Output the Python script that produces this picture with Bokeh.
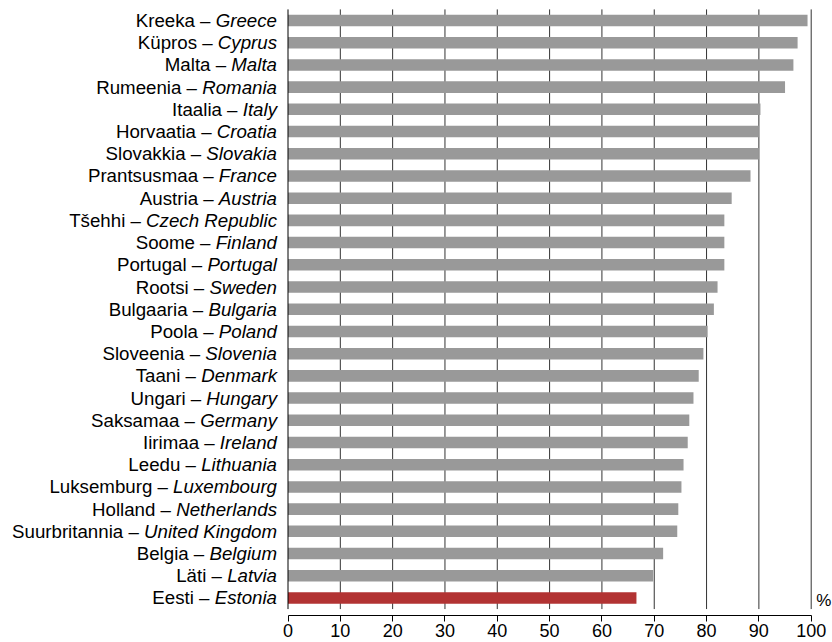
from bokeh.plotting import figure
from bokeh.models import ColumnDataSource, Range1d, FixedTicker
from bokeh.core.properties import value
from bokeh.embed import file_html
from bokeh.resources import INLINE

# ---- data ----
countries_et = ["Kreeka", "Küpros", "Malta", "Rumeenia", "Itaalia", "Horvaatia", "Slovakkia",
                "Prantsusmaa", "Austria", "Tšehhi", "Soome", "Portugal", "Rootsi", "Bulgaaria",
                "Poola", "Sloveenia", "Taani", "Ungari", "Saksamaa", "Iirimaa", "Leedu",
                "Luksemburg", "Holland", "Suurbritannia", "Belgia", "Läti", "Eesti"]
countries_en = ["Greece", "Cyprus", "Malta", "Romania", "Italy", "Croatia", "Slovakia",
                "France", "Austria", "Czech Republic", "Finland", "Portugal", "Sweden", "Bulgaria",
                "Poland", "Slovenia", "Denmark", "Hungary", "Germany", "Ireland", "Lithuania",
                "Luxembourg", "Netherlands", "United Kingdom", "Belgium", "Latvia", "Estonia"]
values = [99.3, 97.4, 96.6, 95.0, 90.3, 90.0, 90.0, 88.4, 84.8, 83.4, 83.4, 83.4, 82.1, 81.4,
          80.2, 79.4, 78.5, 77.5, 76.7, 76.4, 75.6, 75.2, 74.6, 74.4, 71.7, 69.8, 66.6]
highlight = "Estonia"
x_ticks = [0, 10, 20, 30, 40, 50, 60, 70, 80, 90, 100]
unit_label = "%"

# ---- style ----
GREY = "#999999"
RED = "#B23333"
FONT = "Liberation Sans"
LABEL_PX = 18.7
TICK_PX = 18

# Arial / Helvetica advance widths (per 1000 em) to place the italic part
W = dict(zip("ABCDEFGHIJKLMNOPQRSTUVWXYZ",
             [667, 667, 722, 722, 667, 611, 778, 722, 278, 500, 667, 556, 833, 722, 778, 667,
              778, 722, 667, 611, 722, 667, 944, 667, 667, 611]))
W.update(zip("abcdefghijklmnopqrstuvwxyz",
             [556, 556, 500, 556, 556, 278, 556, 556, 222, 222, 500, 222, 833, 556, 556, 556,
              556, 333, 500, 278, 556, 500, 722, 500, 500, 500]))
W[" "] = 278


def text_w(s, size):
    return sum(W.get(c, 556) for c in s) * size / 1000.0


n = len(values)
idx = list(range(n))
gap = 11
src = ColumnDataSource(dict(
    y=idx,
    v=values,
    zero=[0] * n,
    color=[RED if e == highlight else GREY for e in countries_en],
    et=[e + " –" for e in countries_et],
    en=countries_en,
    et_off=[-(gap + text_w(e, LABEL_PX) + text_w(" ", LABEL_PX)) for e in countries_en],
))

fig_w, fig_h = 832, 642
border_top = 8
border_bottom = 27
frame_h = fig_h - border_top - border_bottom
zero_px = 287.5
px_per_unit = 5.232
x0 = -zero_px / px_per_unit
x1 = (fig_w - zero_px) / px_per_unit
band_px = 22.21
top_px = 12.0
y_start = -top_px / band_px
y_end = (frame_h - top_px) / band_px

p = figure(width=fig_w, height=fig_h, output_backend="svg", toolbar_location=None,
           x_range=Range1d(x0, x1), y_range=Range1d(y_end, y_start),
           y_axis_location=None, min_border_left=0, min_border_right=0,
           min_border_top=border_top, min_border_bottom=border_bottom)
p.outline_line_color = None
p.grid.visible = False
p.background_fill_color = "white"

# vertical grid lines (behind bars)
grid_x = [t for t in x_ticks if t > 0]
p.segment(x0=grid_x, x1=grid_x, y0=[-0.5] * len(grid_x), y1=[n - 0.5] * len(grid_x),
          line_color="#333333", line_width=1)

p.hbar(y="y", left="zero", right="v", height=0.52, fill_color="color", line_color=None, source=src)

# left axis line
p.segment(x0=[0], x1=[0], y0=[-0.5], y1=[n - 0.5], line_color="black", line_width=1)

# labels: Estonian upright + English italic
p.text(x="zero", y="y", text="en", source=src, x_offset=-gap, text_align="right",
       text_baseline="middle", text_font=value(FONT), text_font_style="italic",
       text_font_size=f"{LABEL_PX}px", text_color="black")
p.text(x="zero", y="y", text="et", source=src, x_offset="et_off", text_align="right",
       text_baseline="middle", text_font=value(FONT), text_font_size=f"{LABEL_PX}px",
       text_color="black")

# unit label
p.text(x=[x_ticks[-1]], y=[n - 1], text=[unit_label], x_offset=5, y_offset=3,
       text_align="left", text_baseline="middle", text_font=value(FONT),
       text_font_size="17px", text_color="black")

ax = p.xaxis[0]
ax.bounds = (x_ticks[0], x_ticks[-1])
ax.ticker = FixedTicker(ticks=x_ticks)
ax.minor_tick_line_color = None
ax.major_tick_in = 0
ax.major_tick_out = 6
ax.major_label_standoff = 2
ax.axis_line_color = "black"
ax.major_tick_line_color = "black"
ax.major_label_text_font = FONT
ax.major_label_text_font_size = f"{TICK_PX}px"
ax.major_label_text_color = "black"

open("out.html", "w").write(file_html(p, INLINE))
